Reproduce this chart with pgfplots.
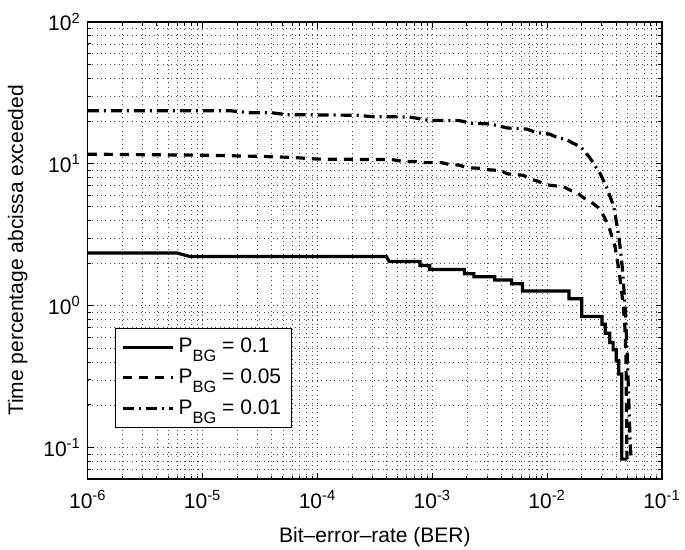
\documentclass[border=0pt]{standalone}
\usepackage{pgfplots}
\pgfplotsset{compat=1.18}
\usepackage{fontspec}
\setmainfont{Liberation Sans}
\newcommand{\PBG}{P\raisebox{-4.5pt}{\fontsize{8.2}{9}\selectfont BG}}

\begin{document}
\begin{tikzpicture}
\begin{axis}[
  xmode=log, ymode=log,
  scale only axis, width=287pt, height=228.5pt,
  xmin=1e-6, xmax=1e-1, ymin=0.06, ymax=100,
  font=\fontsize{10.5}{12}\selectfont,
  xtick={1e-6,1e-5,1e-4,1e-3,1e-2,1e-1},
  xticklabels={10\textsuperscript{-6},10\textsuperscript{-5},10\textsuperscript{-4},10\textsuperscript{-3},10\textsuperscript{-2},10\textsuperscript{-1}},
  minor xtick={2e-6,3e-6,4e-6,5e-6,6e-6,7e-6,8e-6,9e-6,
    2e-5,3e-5,4e-5,5e-5,6e-5,7e-5,8e-5,9e-5,
    2e-4,3e-4,4e-4,5e-4,6e-4,7e-4,8e-4,9e-4,
    2e-3,3e-3,4e-3,5e-3,6e-3,7e-3,8e-3,9e-3,
    2e-2,3e-2,4e-2,5e-2,6e-2,7e-2,8e-2,9e-2},
  ytick={0.1,1,10,100},
  yticklabels={10\textsuperscript{-1},10\textsuperscript{0},10\textsuperscript{1},10\textsuperscript{2}},
  minor ytick={0.06,0.07,0.08,0.09,0.2,0.3,0.4,0.5,0.6,0.7,0.8,0.9,
    2,3,4,5,6,7,8,9,20,30,40,50,60,70,80,90},
  grid=both,
  major grid style={black!70, line width=0.4pt, dash pattern=on 0.4pt off 1.8pt},
  minor grid style={black!70, line width=0.4pt, dash pattern=on 0.4pt off 1.8pt},
  axis line style={black, line width=0.6pt},
  major tick length=3pt, minor tick length=1.8pt,
  every tick/.style={black, line width=0.5pt},
  xticklabel style={yshift=-2pt},
  xlabel={Bit–error–rate (BER)},
  ylabel={Time percentage abcissa exceeded},
  every axis x label/.style={at={(rel axis cs:0.5,-0.127)}, anchor=center},
  every axis y label/.style={at={(rel axis cs:-0.122,0.5)}, rotate=90, anchor=center},
  legend style={at={(0.047,0.112)}, anchor=south west, draw=black,
    line width=0.6pt, font=\fontsize{10.5}{12}\selectfont,
    row sep=2.5pt, inner sep=3pt},
  legend cell align=left,
  legend image code/.code={\draw[#1] (0pt,0pt) -- (25pt,0pt);},
]
\addplot[black, line width=1.6pt] coordinates {
  (1e-6,2.35) (6.0e-6,2.35) (7.8e-6,2.22) (3.98e-4,2.22) (4.2e-4,2.05)
  (7.8e-4,2.05) (7.8e-4,1.92) (9.5e-4,1.92) (9.5e-4,1.80) (1.9e-3,1.80)
  (1.9e-3,1.68) (2.3e-3,1.68) (2.3e-3,1.60) (3.5e-3,1.60) (3.5e-3,1.52)
  (4.9e-3,1.52) (4.9e-3,1.43) (6.1e-3,1.43) (6.1e-3,1.27) (1.55e-2,1.27)
  (1.55e-2,1.12) (2.0e-2,1.12) (2.0e-2,0.84) (3.0e-2,0.84) (3.0e-2,0.74)
  (3.2e-2,0.74) (3.2e-2,0.64) (3.5e-2,0.64) (3.5e-2,0.55) (3.75e-2,0.55)
  (3.75e-2,0.49) (4.0e-2,0.49) (4.0e-2,0.41) (4.2e-2,0.41) (4.2e-2,0.33)
  (4.45e-2,0.33) (4.45e-2,0.083) (5.0e-2,0.083)
};
\addlegendentry{\PBG{} = 0.1}
\addplot[black, line width=1.6pt, dash pattern=on 4.5pt off 3.5pt] coordinates {
  (1e-6,11.7) (1e-5,11.5) (3e-5,11.3) (6e-5,11.1) (1e-4,10.8) (4.5e-4,10.7)
  (5.5e-4,10.4) (7e-4,10.4) (8.5e-4,10.2) (1.2e-3,10.2) (1.4e-3,9.9)
  (1.7e-3,9.8) (2e-3,9.4) (2.6e-3,9.3) (3.2e-3,9.05) (3.9e-3,9.0)
  (4.5e-3,8.5) (6.2e-3,8.3) (7.1e-3,7.8) (8.1e-3,7.6) (1.0e-2,7.1)
  (1.38e-2,6.9) (1.6e-2,6.5) (1.8e-2,6.3) (2.05e-2,5.8) (2.4e-2,5.4)
  (2.8e-2,4.9) (3.1e-2,4.3) (3.45e-2,3.6) (3.9e-2,2.6) (4.25e-2,1.7)
  (4.6e-2,1.0) (4.75e-2,0.7) (4.85e-2,0.45) (4.9e-2,0.2) (4.95e-2,0.083)
};
\addlegendentry{\PBG{} = 0.05}
\addplot[black, line width=1.6pt, dash pattern=on 5.5pt off 2.5pt on 1pt off 2.5pt] coordinates {
  (1e-6,23.7) (1.7e-5,23.7) (2.6e-5,22.9) (4e-5,22.9) (5.4e-5,22.2)
  (2.2e-4,22.0) (3e-4,21.5) (6.3e-4,21.4) (9.5e-4,20.2) (1.7e-3,20.2)
  (2.2e-3,19.3) (3.2e-3,19.1) (4.5e-3,17.9) (6.6e-3,17.6) (8.1e-3,16.6)
  (1.05e-2,16.2) (1.23e-2,15.3) (1.48e-2,14.8) (1.7e-2,13.9) (1.95e-2,13.2)
  (2.34e-2,11.1) (2.9e-2,8.5) (3.3e-2,6.8) (3.8e-2,5.0) (4.2e-2,3.1)
  (4.45e-2,2.1) (4.6e-2,1.5) (4.8e-2,0.9) (4.95e-2,0.5) (5.1e-2,0.25)
  (5.3e-2,0.1) (5.4e-2,0.083)
};
\addlegendentry{\PBG{} = 0.01}
\coordinate (bbsw) at (rel axis cs:-0.153,-0.155);
\coordinate (bbne) at (rel axis cs:1.04,1.048);
\end{axis}
\pgfresetboundingbox
\path[use as bounding box] (bbsw) rectangle (bbne);
\end{tikzpicture}
\end{document}
